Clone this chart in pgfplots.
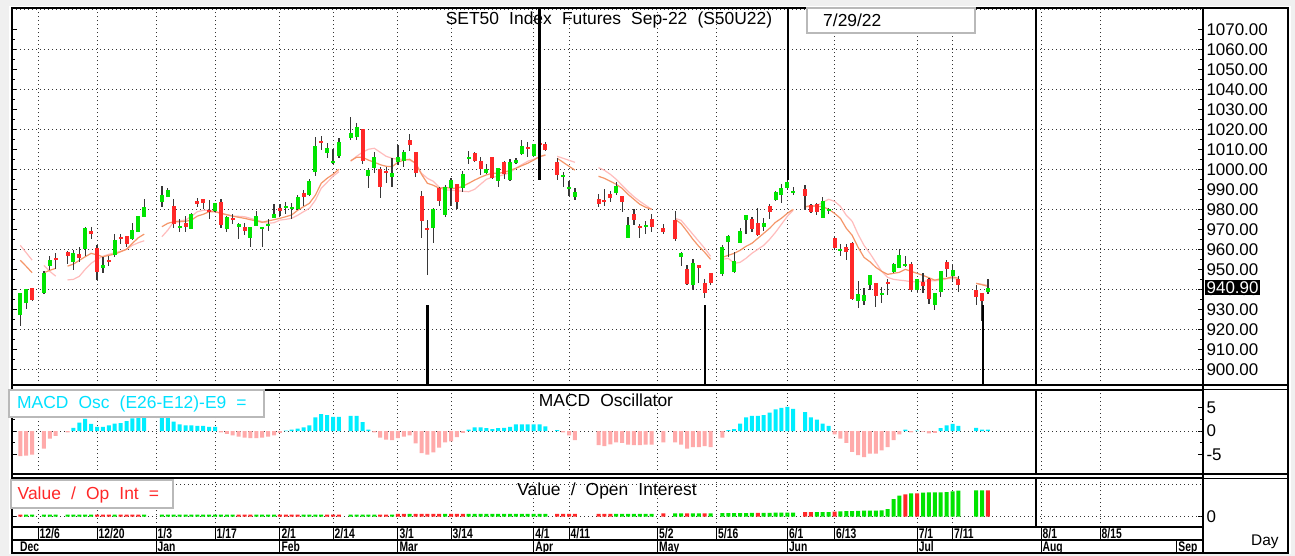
\documentclass[border=0pt]{standalone}
\usepackage{fontspec}
\setmainfont{Liberation Sans}
\usepackage{graphicx}
\usepackage{pgfplots}
\usepackage{pgfplotstable}
\pgfplotsset{compat=1.18}

\definecolor{cgreen}{RGB}{0,228,0}
\definecolor{cred}{RGB}{255,40,40}
\definecolor{wick}{RGB}{55,55,55}
\definecolor{maO}{RGB}{245,150,105}
\definecolor{maP}{RGB}{255,188,188}
\definecolor{mcyan}{RGB}{0,238,255}
\definecolor{mpink}{RGB}{255,170,170}
\definecolor{cyantext}{RGB}{0,225,255}

\newcommand\tf{\fontsize{17.5}{20}\selectfont}
\newcommand\lf{\fontsize{17}{19}\selectfont}
\newcommand\wsp{\hspace{0.58em}}

% OHLC, one row per trading day (i = weekday index, 0 = 6 Dec 2021)
\pgfplotstableread{
i o h l c
-3 927.2 938.3 921.6 938.0
-2 933.3 940.3 930.0 940.0
-1 940.6 940.6 934.0 934.6
1 938.3 949.3 937.5 948.3
2 951.8 956.6 949.6 954.6
3 955.8 958.0 950.0 954.6
5 958.5 959.3 952.6 956.8
6 953.8 959.6 949.6 958.3
7 957.6 961.0 953.8 955.8
8 960.0 971.3 956.6 970.5
9 969.3 971.2 965.3 967.5
10 960.8 962.2 944.7 948.8
11 950.6 956.3 948.0 952.0
12 954.7 956.7 951.7 953.8
13 957.2 967.7 956.3 964.7
14 966.2 967.7 962.7 965.2
15 966.7 966.7 961.0 962.7
16 965.0 973.0 964.7 969.7
17 968.7 976.8 968.6 976.8
18 976.3 985.0 976.0 981.3
21 983.8 991.7 981.3 987.2
22 986.3 990.5 986.0 989.7
23 981.7 985.0 970.5 972.7
24 971.3 975.3 968.5 971.4
25 973.0 976.8 968.8 971.3
26 970.0 978.3 970.0 977.7
27 984.2 985.7 981.0 982.5
28 985.0 985.0 980.0 983.0
29 979.5 984.7 975.0 979.3
30 979.2 983.3 978.8 983.0
31 983.7 985.0 970.5 972.2
32 970.0 976.6 968.7 976.3
33 975.5 977.7 972.7 974.7
34 971.0 973.0 965.0 972.5
35 971.0 973.3 967.2 969.2
36 965.5 971.0 961.0 971.0
37 971.8 979.3 971.6 976.7
38 970.2 971.0 961.0 971.0
39 971.8 975.3 969.3 972.7
40 975.8 982.5 975.8 977.7
41 980.5 982.5 976.7 979.2
42 981.0 983.7 977.7 981.3
43 980.0 983.3 975.0 981.0
44 980.0 987.0 979.7 986.0
45 988.0 989.7 981.7 986.3
46 987.2 995.2 986.7 994.3
47 998.5 1016.3 996.7 1011.8
48 1014.0 1016.7 1009.7 1013.0
49 1008.3 1013.3 1005.8 1010.7
50 1003.5 1010.0 1002.7 1003.7
51 1006.7 1015.7 1005.5 1013.7
53 1015.7 1026.0 1014.7 1018.3
54 1016.0 1023.3 1014.7 1021.0
55 1020.0 1020.0 1002.7 1004.3
56 996.7 1000.5 990.5 999.7
57 1000.5 1008.8 998.0 1006.3
58 1000.0 1001.3 985.8 991.0
59 998.8 1001.0 993.3 998.3
60 996.3 1005.5 991.3 998.0
61 1003.8 1012.2 1002.2 1006.3
62 1004.3 1009.7 1001.3 1008.8
63 1014.7 1017.7 1009.3 1012.2
64 1008.8 1008.8 996.3 998.3
65 986.7 989.2 965.5 974.3
66 970.2 974.7 947.2 969.8
67 970.5 980.5 963.0 980.0
68 990.5 991.0 981.7 984.3
69 977.2 992.2 976.0 991.3
70 990.5 995.5 981.7 994.7
71 992.7 992.7 980.0 983.8
72 990.5 999.2 988.8 997.7
73 1005.7 1009.2 1002.7 1005.8
74 1008.0 1008.8 1003.8 1004.2
75 1004.3 1006.0 997.2 1000.0
76 998.3 1002.7 997.7 1000.0
77 1006.0 1006.3 995.0 995.5
78 994.3 1000.5 991.3 1000.5
79 1003.8 1004.2 995.0 997.7
80 994.7 1005.0 994.3 1003.8
81 1003.0 1005.8 1002.5 1004.7
82 1007.7 1014.7 1007.2 1011.7
83 1010.7 1013.5 1006.3 1010.5
84 1006.7 1012.5 1006.3 1012.5
85 1012.7 1013.0 1012.0 1012.5
86 1012.7 1013.8 1009.2 1009.7
88 1003.8 1005.5 994.7 997.2
89 996.6 998.8 991.3 997.0
90 990.8 994.2 986.7 991.0
91 986.0 990.5 984.7 988.8
95 985.0 987.7 981.0 982.7
96 984.7 990.0 981.7 983.5
97 987.7 989.2 983.8 985.7
98 988.3 993.8 987.0 991.7
99 986.8 986.8 978.8 983.8
100 965.8 976.3 965.8 972.2
101 977.7 980.0 972.2 974.7
102 971.0 972.7 965.5 970.9
103 971.6 974.2 967.7 971.8
104 975.0 977.5 968.8 971.3
106 970.9 972.7 967.7 968.8
108 974.7 979.3 964.3 965.0
109 956.3 958.8 951.7 958.0
110 950.0 952.2 942.2 942.7
111 942.2 955.0 939.7 953.0
112 952.2 952.2 943.0 950.5
113 943.3 945.0 935.5 938.3
114 948.0 948.0 942.2 943.0
116 947.7 962.2 946.8 961.3
117 963.8 967.2 956.3 966.7
118 948.8 958.8 948.3 954.3
119 963.3 970.5 963.3 969.3
120 974.7 977.2 967.7 977.2
121 975.2 976.0 968.8 970.2
122 973.0 980.5 966.7 967.2
123 971.3 975.5 969.3 973.0
124 981.8 982.7 975.0 978.5
125 984.7 989.3 984.3 988.8
126 987.2 992.7 983.0 990.5
127 990.5 994.7 989.7 993.8
128 988.7 991.0 987.2 988.9
130 990.2 992.2 979.7 986.7
131 982.2 982.7 978.0 978.8
132 982.7 983.3 977.2 978.8
133 975.5 986.0 975.5 984.3
134 979.8 980.5 977.7 980.0
135 965.5 966.3 959.7 960.8
136 959.3 962.5 956.7 960.0
137 961.3 962.7 954.7 958.5
138 963.3 963.8 934.7 935.0
139 934.2 944.3 930.8 937.7
140 934.2 940.5 932.2 937.2
141 942.2 947.2 939.7 947.2
142 943.3 943.3 931.3 936.7
143 937.3 941.3 933.3 937.7
144 943.3 945.0 937.2 942.7
145 948.5 953.0 948.0 952.7
146 950.5 960.0 950.5 957.2
147 952.0 956.7 951.3 952.7
148 952.7 953.8 938.8 939.7
149 939.7 945.0 938.0 945.0
150 943.8 948.0 938.3 941.7
151 945.0 945.5 932.7 935.0
152 932.2 938.3 929.7 938.3
153 938.8 949.3 936.0 949.3
154 953.8 954.7 946.3 950.0
155 946.7 952.7 943.8 949.7
156 945.0 946.7 938.8 942.2
159 939.7 942.2 932.2 936.0
160 938.0 938.0 924.3 934.3
161 938.8 945.0 937.7 940.9
}\candles

% two moving averages (o = faster, p = slower), nan = break
\pgfplotstableread{
i o p
-3 954.5 962.0
-2 951.5 958.3
-1 948.3 954.6
0 nan nan
1 948.3 952.0
2 949.5 949.0
3 950.5 946.6
4 nan nan
5 951.6 944.7
6 952.6 945.0
7 954.5 946.5
8 956.3 950.0
9 958.0 953.0
10 957.2 955.0
11 956.3 956.5
12 957.0 957.5
13 957.6 958.3
14 958.8 959.0
15 960.0 960.0
16 963.0 962.0
17 965.8 963.3
18 967.6 964.3
19 nan nan
21 971.3 966.3
22 973.0 969.6
23 973.8 973.8
24 973.8 974.3
25 974.0 974.6
26 974.6 976.5
27 976.6 978.8
28 977.5 979.5
29 978.8 979.6
30 978.8 979.0
31 978.0 978.0
32 977.3 977.3
33 976.6 976.6
34 976.0 976.5
35 975.5 976.3
36 974.8 975.5
37 974.2 974.6
38 973.5 973.8
39 974.2 973.0
40 974.8 973.3
41 975.5 974.6
42 976.3 975.0
43 977.2 975.5
44 979.5 977.0
45 981.3 978.8
46 983.0 980.5
47 987.0 984.5
48 993.0 990.5
49 995.5 993.5
50 997.5 996.5
51 1000.0 998.8
52 nan nan
53 1004.3 1004.0
54 1006.0 1006.5
55 1006.0 1008.5
56 1004.6 1010.0
57 1003.5 1010.5
58 1002.3 1008.5
59 1001.5 1006.5
60 1001.3 1005.5
61 1003.5 1005.0
62 1004.6 1005.0
63 1005.0 1004.6
64 1003.0 1003.0
65 997.5 998.0
66 993.0 995.5
67 992.0 994.0
68 990.5 991.0
69 991.0 989.6
70 990.5 989.6
71 990.5 989.3
72 991.5 989.0
73 993.0 988.8
74 994.6 990.0
75 996.0 992.5
76 997.2 995.0
77 998.0 996.0
78 998.0 996.5
79 998.5 997.3
80 999.5 998.5
81 1000.5 1000.5
82 1001.8 1002.3
83 1003.0 1004.0
84 1004.6 1005.0
85 1006.3 1006.3
86 1007.2 1007.0
87 nan nan
88 1005.5 1006.5
89 1003.5 1005.5
90 1001.5 1004.5
91 999.6 1003.5
92 nan nan
95 996.5 1000.8
96 995.5 999.5
97 994.0 997.5
98 992.5 995.0
99 990.5 992.0
100 987.5 989.0
101 985.0 986.3
102 982.5 984.0
103 981.0 982.0
104 980.0 980.0
105 nan nan
108 975.0 975.5
109 972.8 974.5
110 969.0 971.0
111 965.0 967.5
112 961.5 964.0
113 958.5 960.5
114 955.0 956.5
115 nan nan
116 956.0 955.0
117 957.0 955.5
118 958.0 953.0
119 959.5 953.5
120 961.5 955.5
121 963.0 958.0
122 965.5 960.0
123 968.0 962.0
124 970.5 965.0
125 973.5 968.5
126 975.5 972.5
127 978.0 976.5
128 980.0 979.5
129 nan nan
130 981.3 981.3
131 981.8 981.3
132 981.5 981.8
133 981.3 983.5
134 980.0 985.0
135 978.0 984.0
136 975.5 981.5
137 970.5 977.0
138 967.0 974.0
139 961.0 967.5
140 956.0 962.0
141 953.8 958.0
142 951.0 953.5
143 949.0 949.0
144 947.5 946.0
145 948.0 945.0
146 948.5 944.6
147 950.0 944.3
148 949.0 943.8
149 948.0 943.8
150 947.0 944.0
151 945.8 944.3
152 944.6 944.3
153 945.3 944.5
154 945.5 945.3
155 946.3 945.5
156 945.5 945.0
157 nan nan
159 943.0 943.0
160 942.3 942.5
161 941.5 942.0
}\mavg

% MACD oscillator
\pgfplotstableread{
i v
-3 -5.3
-2 -5.2
-1 -5.0
1 -3.7
2 -1.6
3 -1.0
5 -0.3
6 0.7
7 1.8
8 2.6
9 1.5
10 0.9
11 0.9
12 1.2
13 1.6
14 1.7
15 2.1
16 2.7
17 2.9
18 2.9
21 2.9
22 2.9
23 2.0
24 1.4
25 1.2
26 1.2
27 1.1
28 1.1
29 0.9
30 0.9
31 -0.3
32 -0.6
33 -0.9
34 -1.2
35 -1.4
36 -1.5
37 -1.5
38 -1.4
39 -1.2
40 -0.9
41 -0.4
42 0.1
43 0.3
44 0.5
45 0.8
46 1.2
47 2.9
48 3.6
49 3.4
50 3.0
51 3.0
53 3.2
54 3.2
55 1.9
56 0.3
57 -0.3
58 -1.4
59 -1.8
60 -1.9
61 -1.5
62 -1.2
63 -0.9
64 -2.6
65 -4.7
66 -5.0
67 -4.5
68 -3.5
69 -2.4
70 -2.2
71 -1.3
72 -0.4
73 0.3
74 0.8
75 0.8
76 0.6
77 0.4
78 0.6
79 0.7
80 0.9
81 1.4
82 1.4
83 1.4
84 1.4
85 1.4
86 1.0
88 0.2
89 -0.3
90 -0.9
91 -1.9
95 -3.0
96 -3.2
97 -2.8
98 -2.4
99 -2.5
100 -2.9
101 -3.0
102 -3.0
103 -2.9
104 -2.9
106 -2.4
108 -2.4
109 -2.9
110 -3.7
111 -3.4
112 -3.4
113 -3.2
114 -3.4
116 -1.4
117 0.2
118 0.4
119 1.6
120 2.9
121 3.2
122 3.2
123 3.4
124 3.9
125 4.6
126 4.9
127 5.1
128 4.7
130 4.0
131 2.9
132 2.4
133 1.6
134 1.1
135 -0.7
136 -1.6
137 -2.5
138 -4.4
139 -5.1
140 -5.5
141 -4.8
142 -4.8
143 -4.1
144 -3.4
145 -1.9
146 -0.7
147 0.3
148 -0.3
149 0.1
150 -0.1
151 -0.5
152 -0.4
153 0.6
154 1.2
155 1.5
156 1.1
159 0.7
160 0.3
161 0.3
}\macd

% Value / open interest (g = 1 green, 0 red)
\pgfplotstableread{
i v g
-3 2.2 0
-2 2.2 1
-1 2.2 1
1 2.2 1
2 2.2 1
3 2.2 1
5 2.2 1
6 2.2 1
7 2.2 1
8 2.2 1
9 2.2 1
10 2.2 0
11 2.2 0
12 2.2 0
13 2.2 1
14 2.2 0
15 2.2 0
16 2.2 0
17 2.2 0
18 2.2 1
21 2.2 1
22 2.2 1
23 2.2 1
24 2.2 1
25 2.2 1
26 2.2 1
27 2.2 1
28 2.2 1
29 2.2 1
30 2.2 1
31 2.2 1
32 2.2 1
33 2.2 1
34 2.2 0
35 2.2 0
36 2.2 0
37 2.2 1
38 2.2 1
39 2.2 1
40 2.2 1
41 2.2 0
42 2.2 0
43 2.2 0
44 2.2 0
45 2.2 1
46 2.2 1
47 2.2 1
48 2.2 1
49 2.2 0
50 2.2 0
51 2.2 0
53 2.2 1
54 2.2 1
55 2.2 1
56 2.2 1
57 2.2 1
58 2.2 0
59 2.2 0
60 2.2 1
61 2.8 0
62 2.8 0
63 2.8 1
64 2.8 0
65 2.8 0
66 2.8 0
67 2.8 0
68 2.8 0
69 2.8 1
70 2.8 0
71 2.8 0
72 2.8 0
73 2.8 1
74 2.8 1
75 2.8 1
76 2.8 1
77 2.8 1
78 2.8 1
79 2.8 1
80 2.8 1
81 2.8 1
82 2.8 1
83 2.8 1
84 2.8 1
85 2.8 1
86 2.8 1
88 2.8 0
89 2.8 0
90 2.8 0
91 2.8 0
95 2.8 0
96 2.8 0
97 2.8 0
98 2.8 1
99 2.8 1
100 2.8 1
101 2.8 1
102 2.8 1
103 2.8 1
104 2.8 1
106 3.3 0
108 3.3 1
109 3.3 1
110 3.3 0
111 3.3 1
112 3.3 1
113 3.3 0
114 3.3 1
116 3.6 1
117 3.6 1
118 3.6 1
119 3.6 1
120 3.6 1
121 3.8 1
122 3.8 0
123 3.8 1
124 3.8 1
125 4.0 1
126 4.0 1
127 4.2 1
128 4.2 1
130 4.6 0
131 4.6 0
132 4.6 1
133 4.6 1
134 4.6 1
135 5.0 0
136 5.3 1
137 5.5 1
138 5.7 1
139 5.8 1
140 6.0 1
141 6.0 1
142 6.2 1
143 6.4 1
144 7.7 1
145 17.7 1
146 21.0 1
147 22.3 0
148 23.3 1
149 23.3 0
150 24.0 1
151 24.3 1
152 24.3 1
153 24.3 1
154 24.7 1
155 25.3 1
156 26.0 1
159 26.3 1
160 26.3 1
161 26.3 0
}\oi

\pgfplotsset{
  panel/.style={
    scale only axis, width=1191bp,
    xmin=-4.41, xmax=197.46,
    axis line style={line width=1.2bp},
    xtick={0,10,20,30,41,50,61,70,84,90,105,115,127,135,149,155,170,180},
    xticklabels={}, xtick style={draw=none},
    xmajorgrids,
    grid style={black!80, line width=0.9bp, dash pattern=on 1bp off 3bp},
    yticklabel pos=right,
    yticklabel style={font=\lf},
    ytick style={black, line width=0.8bp},
    major tick length=5bp, minor tick length=3bp,
  },
  bars/.style={ybar, bar width=4bp, bar shift=0pt, draw=none},
  cndl/.style={draw=none, no markers,
    error bars/y dir=both, error bars/y explicit, error bars/error mark=none},
}

\begin{document}
\begin{tikzpicture}
\fill[gray!12] (0,0) rectangle (1295bp,-556bp);
\fill[white] (9bp,-6bp) rectangle (1291bp,-554bp);

% ---------------- main price panel ----------------
\begin{axis}[panel, at={(12bp,-385bp)}, anchor=south west, height=377bp,
  ymin=892.2, ymax=1080.6,
  ytick={900,910,...,1070},
  yticklabels={900.00,910.00,920.00,930.00,940.00,950.00,960.00,970.00,980.00,990.00,1000.00,1010.00,1020.00,1030.00,1040.00,1050.00,1060.00,1070.00},
  minor y tick num=1,
  extra y ticks={900,920,...,1080}, extra y tick labels={},
  extra y tick style={grid=major, ytick style={draw=none}},
]
\addplot[maP, line width=1.2bp, unbounded coords=jump] table[x=i, y=p] {\mavg};
\addplot[maO, line width=1.2bp, unbounded coords=jump] table[x=i, y=o] {\mavg};
% wicks
\addplot[cndl, error bars/error bar style={draw=wick, line width=1.2bp}]
  table[x=i, y expr={(\thisrow{h}+\thisrow{l})/2}, y error expr={(\thisrow{h}-\thisrow{l})/2}] {\candles};
% up bodies
\addplot[cndl, restrict expr to domain={\thisrow{c}-\thisrow{o}}{0:1000},
  error bars/error bar style={draw=cgreen, line width=4bp}]
  table[x=i, y expr={(\thisrow{o}+\thisrow{c})/2}, y error expr={max(abs(\thisrow{c}-\thisrow{o})/2,0.5)}] {\candles};
% down bodies
\addplot[cndl, restrict expr to domain={\thisrow{o}-\thisrow{c}}{0.001:1000},
  error bars/error bar style={draw=cred, line width=4bp}]
  table[x=i, y expr={(\thisrow{o}+\thisrow{c})/2}, y error expr={max(abs(\thisrow{c}-\thisrow{o})/2,0.5)}] {\candles};
% marker lines
\addplot[black, line width=2.2bp] coordinates {(66,892.2) (66,932)};
\addplot[black, line width=2.2bp] coordinates {(113,892.2) (113,932)};
\addplot[black, line width=2.2bp] coordinates {(160.2,892.2) (160.2,932)};
\addplot[black, line width=2.2bp] coordinates {(85,1080.6) (85,994.6)};
\addplot[black, line width=2.2bp] coordinates {(127.1,1080.6) (127.1,994.6)};
\addplot[black, line width=1.6bp] coordinates {(169.2,1080.6) (169.2,892.2)};
\end{axis}

% ---------------- MACD panel ----------------
\begin{axis}[panel, at={(12bp,-474bp)}, anchor=south west, height=84bp,
  ymin=-9.1, ymax=8.7,
  ytick={-5,0,5}, yticklabels={-5,0,5},
  minor y tick num=1,
  extra y ticks={0}, extra y tick labels={},
  extra y tick style={grid=major, ytick style={draw=none}},
]
\addplot[bars, fill=mcyan, restrict y to domain=0:100] table[x=i, y=v] {\macd};
\addplot[bars, fill=mpink, restrict y to domain=-100:0] table[x=i, y=v] {\macd};
\addplot[black, line width=1.6bp] coordinates {(169.2,8.7) (169.2,-9.1)};
\end{axis}

% ---------------- Value / OI panel ----------------
\begin{axis}[panel, at={(12bp,-527bp)}, anchor=south west, height=49bp,
  ymin=-10.3, ymax=38.7,
  ytick={0}, yticklabels={0},
  extra y ticks={0,32.7}, extra y tick labels={},
  extra y tick style={grid=major, ytick style={draw=none}},
]
\addplot[bars, fill=cgreen, restrict expr to domain={\thisrow{g}}{0.5:1.5}] table[x=i, y=v] {\oi};
\addplot[bars, fill=cred, restrict expr to domain={\thisrow{g}}{-0.5:0.5}] table[x=i, y=v] {\oi};
\addplot[black, line width=1.6bp] coordinates {(169.2,38.7) (169.2,-10.3)};
\end{axis}

% ---------------- frames ----------------
\draw[line width=1.6bp] (12bp,-8bp) rectangle (1288bp,-553bp);
\draw[line width=1.2bp] (1203bp,-8bp) -- (1203bp,-553bp);
\draw[line width=1.4bp] (12bp,-385bp) -- (1288bp,-385bp);
\draw[line width=1.0bp] (12bp,-389bp) -- (1288bp,-389bp);
\draw[line width=1.4bp] (12bp,-474bp) -- (1288bp,-474bp);
\draw[line width=1.0bp] (12bp,-478bp) -- (1288bp,-478bp);
\draw[line width=1.2bp] (12bp,-527bp) -- (1203bp,-527bp);
\draw[line width=1.2bp] (12bp,-540bp) -- (1203bp,-540bp);

% date band
\foreach \i/\lab in {0/{12/6},10/{12/20},20/{1/3},30/{1/17},41/{2/1},50/{2/14},61/{3/1},70/{3/14},84/{4/1},90/{4/11},105/{5/2},115/{5/16},127/{6/1},135/{6/13},149/{7/1},155/{7/11},170/{8/1},180/{8/15}}{
  \draw[line width=1bp] ({38bp+5.9bp*\i},-527bp) -- ({38bp+5.9bp*\i},-540bp);
  \node[anchor=base west, inner sep=0] at ({39.5bp+5.9bp*\i},-538.3bp) {\scalebox{0.74}[1]{\fontsize{14}{15}\selectfont\bfseries \lab}};
}
\foreach \i/\lab in {20/Jan,41/Feb,61/Mar,84/Apr,105/May,127/Jun,149/Jul,170/Aug,193/Sep}{
  \draw[line width=1bp] ({38bp+5.9bp*\i},-540bp) -- ({38bp+5.9bp*\i},-553bp);
  \node[anchor=base west, inner sep=0] at ({39.5bp+5.9bp*\i},-551bp) {\scalebox{0.74}[1]{\fontsize{14}{15}\selectfont\bfseries \lab}};
}
\node[anchor=base west, inner sep=0] at (20bp,-551bp) {\scalebox{0.74}[1]{\fontsize{14}{15}\selectfont\bfseries Dec}};
\node[anchor=base west, inner sep=0] at (1251bp,-545bp) {\fontsize{15.5}{17}\selectfont Day};

% titles and label boxes
\node[anchor=base, inner sep=0] at (609bp,-24bp) {\tf SET50\wsp Index\wsp Futures\wsp Sep-22\wsp (S50U22)};
\draw[gray!55, line width=1.5bp, fill=white] (807bp,-8bp) rectangle (975bp,-33bp);
\node[anchor=base west, inner sep=0] at (823bp,-26bp) {\tf 7/29/22};

\draw[gray!55, line width=1.5bp, fill=white] (9bp,-390bp) rectangle (264bp,-417bp);
\node[anchor=base west, inner sep=0, text=cyantext] at (17bp,-408.5bp) {\tf MACD\wsp Osc\wsp (E26-E12)-E9\wsp =};
\node[anchor=base, inner sep=0] at (606bp,-406bp) {\tf MACD\wsp Oscillator};

\draw[gray!55, line width=1.5bp, fill=white] (11bp,-480bp) rectangle (173bp,-508bp);
\node[anchor=base west, inner sep=0, text=cred] at (17.5bp,-499bp) {\tf Value\wsp /\wsp Op\wsp Int\wsp =};
\node[anchor=base, inner sep=0] at (607bp,-495bp) {\tf Value\wsp /\wsp Open\wsp Interest};

\node[anchor=west, fill=black, text=white, inner xsep=1.5bp, inner ysep=1.5bp] at (1205bp,-287.5bp) {\lf 940.90};

\pgfresetboundingbox
\useasboundingbox (0,0) rectangle (1295bp,-556bp);
\end{tikzpicture}
\end{document}
